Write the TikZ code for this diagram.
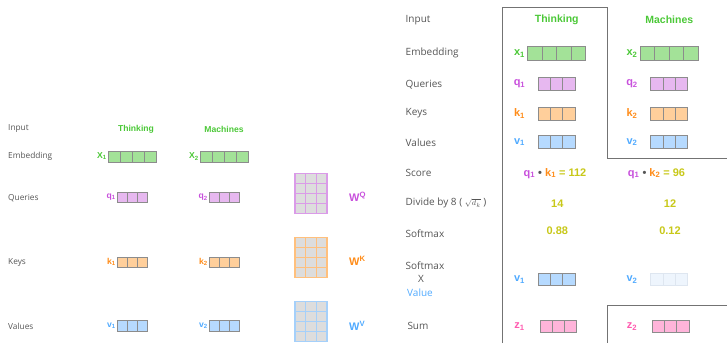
\documentclass[tikz,border=0pt]{standalone}
\usepackage{fontspec}
\setmainfont{Open Sans}
\newfontfamily\boldsans{Liberation Sans}
\definecolor{labelgray}{RGB}{85,85,85}
\definecolor{framegray}{RGB}{115,115,115}
\definecolor{cellline}{RGB}{140,140,140}
\definecolor{tgreen}{RGB}{75,200,55}
\definecolor{fgreen}{RGB}{163,226,152}
\definecolor{tpurple}{RGB}{200,80,220}
\definecolor{fpurple}{RGB}{231,184,240}
\definecolor{gpurple}{RGB}{218,155,232}
\definecolor{torange}{RGB}{255,140,25}
\definecolor{forange}{RGB}{255,207,155}
\definecolor{gorange}{RGB}{255,192,125}
\definecolor{tblue}{RGB}{80,170,255}
\definecolor{fblue}{RGB}{182,218,255}
\definecolor{gblue}{RGB}{165,208,250}
\definecolor{fblueghost}{RGB}{238,245,253}
\definecolor{lblueghost}{RGB}{222,230,240}
\definecolor{tpink}{RGB}{255,90,175}
\definecolor{fpink}{RGB}{255,180,218}
\definecolor{tyellow}{RGB}{200,200,25}
\definecolor{mgray}{RGB}{221,221,221}
\tikzset{
  rowlbl/.style={anchor=west,inner sep=0pt,text=labelgray,font=\fontsize{10}{12}\selectfont},
  rowlblsmall/.style={anchor=west,inner sep=0pt,text=labelgray,font=\fontsize{8.3}{10}\selectfont},
  word/.style={inner sep=0pt,text=tgreen,font=\boldsans\bfseries\fontsize{10.5}{12}\selectfont},
  wordsmall/.style={inner sep=0pt,text=tgreen,font=\boldsans\bfseries\fontsize{8.6}{10}\selectfont},
  veclbl/.style={inner sep=0pt,font=\boldsans\bfseries\fontsize{11}{12}\selectfont},
  veclblsmall/.style={anchor=east,inner sep=0pt,font=\boldsans\bfseries\fontsize{8.6}{10}\selectfont},
  numlbl/.style={inner sep=0pt,text=tyellow,font=\boldsans\bfseries\fontsize{11}{12}\selectfont},
  wlbl/.style={anchor=west,inner sep=0pt,font=\boldsans\bfseries\fontsize{11}{12}\selectfont},
  frameline/.style={draw=framegray,line width=1pt},
  cell/.style={line width=0.8pt}
}
% a row of #3 cells, each #4 wide and #5 high, top-left corner at (#1,#2)
\newcommand\cellrow[7]{%
  \foreach \ci in {1,...,#3}{%
    \draw[cell,fill=#6,draw=#7] ({#1+(\ci-1)*#4},#2) rectangle ++(#4,#5);
  }}
% a 3x4 weight matrix with top-left corner at (#1,#2)
\newcommand\wmatrix[3]{%
  \fill[mgray] (#1,#2) rectangle ++(32,40);
  \foreach \cj in {1,2}{\draw[#3,line width=1pt] ({#1+\cj*32/3},#2) -- ++(0,40);}
  \foreach \cj in {1,2,3}{\draw[#3,line width=1pt] (#1,{#2+\cj*10}) -- ++(32,0);}
  \draw[#3,line width=1.2pt] (#1,#2) rectangle ++(32,40);
}
\begin{document}
\begin{tikzpicture}[x=1pt,y=-1pt]
\useasboundingbox (0,0) rectangle (727,343);

% ---------------- left panel ----------------
\node[rowlblsmall] (lInput) at (8,129) {Input};
\node[rowlblsmall] (lEmb) at (8,156.5) {Embedding};
\node[rowlblsmall] (lQ) at (8,198) {Queries};
\node[rowlblsmall] (lK) at (8,262.5) {Keys};
\node[rowlblsmall] (lV) at (8,326) {Values};

\node[wordsmall] (lThinking) at (136,129) {Thinking};
\node[wordsmall] (lMachines) at (224,129) {Machines};

\cellrow{108}{151}{4}{12}{11}{fgreen}{cellline}
\cellrow{200}{151}{4}{12}{11}{fgreen}{cellline}
\node[veclblsmall,text=tgreen] (lx1) at (107,156.5) {X\textsubscript{1}};
\node[veclblsmall,text=tgreen] (lx2) at (199,156.5) {X\textsubscript{2}};

\cellrow{117}{192}{3}{10}{10.5}{fpurple}{cellline}
\cellrow{209}{192}{3}{10}{10.5}{fpurple}{cellline}
\node[veclblsmall,text=tpurple] (lq1) at (116,197.5) {q\textsubscript{1}};
\node[veclblsmall,text=tpurple] (lq2) at (208,197.5) {q\textsubscript{2}};

\cellrow{117}{257}{3}{10}{10.5}{forange}{cellline}
\cellrow{209}{257}{3}{10}{10.5}{forange}{cellline}
\node[veclblsmall,text=torange] (lk1) at (116,262.3) {k\textsubscript{1}};
\node[veclblsmall,text=torange] (lk2) at (208,262.3) {k\textsubscript{2}};

\cellrow{117}{320.5}{3}{10}{10.5}{fblue}{cellline}
\cellrow{209}{320.5}{3}{10}{10.5}{fblue}{cellline}
\node[veclblsmall,text=tblue] (lv1) at (116,325.8) {v\textsubscript{1}};
\node[veclblsmall,text=tblue] (lv2) at (208,325.8) {v\textsubscript{2}};

% weight matrices
\wmatrix{295}{173.3}{gpurple}
\wmatrix{295}{237.5}{gorange}
\wmatrix{295}{301.7}{gblue}
\node[wlbl,text=tpurple] (WQ) at (349,197) {W\textsuperscript{Q}};
\node[wlbl,text=torange] (WK) at (349,261) {W\textsuperscript{K}};
\node[wlbl,text=tblue] (WV) at (349,325.5) {W\textsuperscript{V}};

% ---------------- right panel ----------------
\draw[frameline] (502.7,343) -- (502.7,7.3) -- (607.3,7.3) -- (607.3,158.3) -- (727,158.3);
\draw[frameline] (727,305.7) -- (607.3,305.7) -- (607.3,343);

\node[rowlbl] (rInput) at (405.5,20) {Input};
\node[rowlbl] (rEmb) at (405.5,53.3) {Embedding};
\node[rowlbl] (rQ) at (405.5,84.3) {Queries};
\node[rowlbl] (rK) at (405.5,113.3) {Keys};
\node[rowlbl] (rV) at (405.5,142.7) {Values};
\node[rowlbl] (rScore) at (405.5,173.3) {Score};
\node[rowlbl] (rDiv) at (405.5,203.3) {Divide by 8 ( {\fontsize{8.5}{10}\selectfont$\sqrt{d_k}$} )};
\node[rowlbl] (rSoft) at (405.5,233.3) {Softmax};
\node[rowlbl] (rSoft2) at (405.5,266) {Softmax};
\node[inner sep=0pt,text=labelgray,font=\fontsize{10}{12}\selectfont] (rX) at (421,279) {X};
\node[rowlbl,text=tblue] (rValue) at (407,292.7) {Value};
\node[rowlbl] (rSum) at (407.3,326) {Sum};

\node[word] (rThinking) at (556.7,20) {Thinking};
\node[word] (rMachines) at (669.3,20) {Machines};

\cellrow{527.3}{46}{4}{14.6}{14}{fgreen}{cellline}
\cellrow{640}{46}{4}{14.6}{14}{fgreen}{cellline}
\node[veclbl,text=tgreen] (x1) at (519.5,53.3) {x\textsubscript{1}};
\node[veclbl,text=tgreen] (x2) at (632,53.3) {x\textsubscript{2}};

\cellrow{538.3}{77.3}{3}{12.2}{12.7}{fpurple}{cellline}
\cellrow{650.7}{77.3}{3}{12.2}{12.7}{fpurple}{cellline}
\node[veclbl,text=tpurple] (q1) at (519.5,84) {q\textsubscript{1}};
\node[veclbl,text=tpurple] (q2) at (632,84) {q\textsubscript{2}};

\cellrow{538.3}{107.3}{3}{12.2}{12.7}{forange}{cellline}
\cellrow{650.7}{107.3}{3}{12.2}{12.7}{forange}{cellline}
\node[veclbl,text=torange] (k1) at (519.5,113.3) {k\textsubscript{1}};
\node[veclbl,text=torange] (k2) at (632,113.3) {k\textsubscript{2}};

\cellrow{538.3}{135.5}{3}{12.2}{12.7}{fblue}{cellline}
\cellrow{650.7}{135.5}{3}{12.2}{12.7}{fblue}{cellline}
\node[veclbl,text=tblue] (v1) at (519.5,142) {v\textsubscript{1}};
\node[veclbl,text=tblue] (v2) at (632,142) {v\textsubscript{2}};

% scores
\node[veclbl] (s1) at (555,173.3) {\textcolor{tpurple}{q\textsubscript{1}} \textcolor{labelgray}{\textbullet} \textcolor{torange}{k\textsubscript{1}} \textcolor{tyellow}{= 112}};
\node[veclbl] (s2) at (656.5,173.3) {\textcolor{tpurple}{q\textsubscript{1}} \textcolor{labelgray}{\textbullet} \textcolor{torange}{k\textsubscript{2}} \textcolor{tyellow}{= 96}};
\node[numlbl] (d1) at (557.3,203.3) {14};
\node[numlbl] (d2) at (670,203.3) {12};
\node[numlbl] (sm1) at (557.3,230.7) {0.88};
\node[numlbl] (sm2) at (670,230.7) {0.12};

% weighted values
\cellrow{538.3}{273.3}{3}{12.2}{12.4}{fblue}{cellline}
\cellrow{650.7}{273.3}{3}{12.2}{12.4}{fblueghost}{lblueghost}
\node[veclbl,text=tblue] (wv1) at (519.5,279.8) {v\textsubscript{1}};
\node[veclbl,text=tblue] (wv2) at (632,279.8) {v\textsubscript{2}};

% sums
\cellrow{540}{320}{3}{12.2}{12.3}{fpink}{cellline}
\cellrow{652.3}{320}{3}{12.2}{12.3}{fpink}{cellline}
\node[veclbl,text=tpink] (z1) at (519.5,326.3) {z\textsubscript{1}};
\node[veclbl,text=tpink] (z2) at (632,326.3) {z\textsubscript{2}};
\end{tikzpicture}
\end{document}
